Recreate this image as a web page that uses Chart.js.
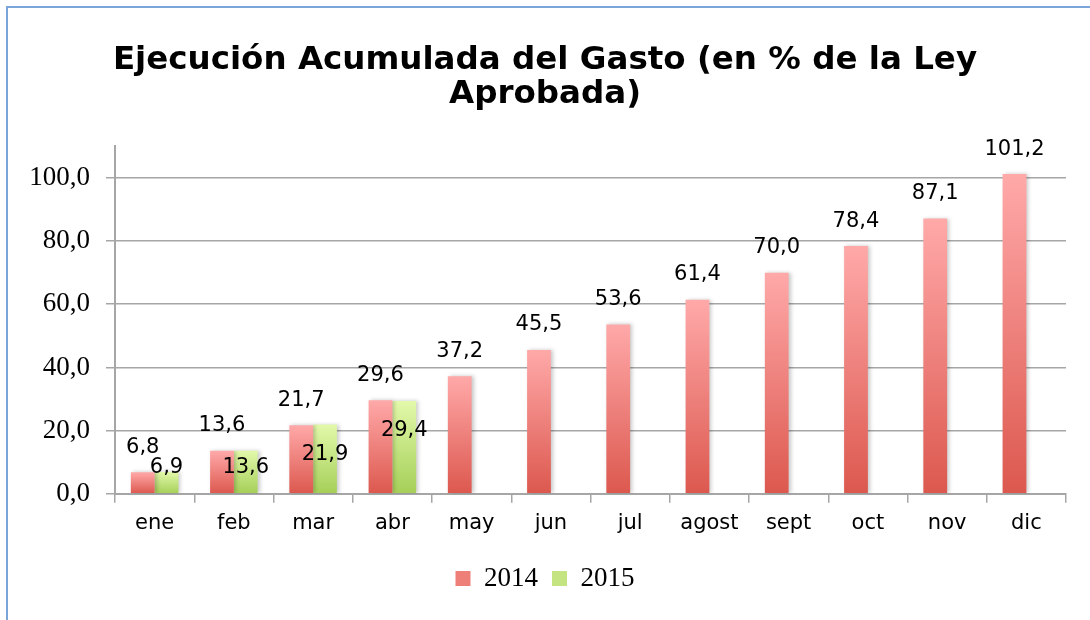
<!DOCTYPE html>
<html lang="es">
<head>
  <meta charset="UTF-8">
  <script src="https://cdn.jsdelivr.net/npm/chart.js"></script>
  <title>Ejecución Acumulada del Gasto</title>
  <style>
    body { margin: 0; background: #fff; }
    .wrap { position: relative; width: 1090px; height: 620px; }
    .marco {
      position: absolute; left: 6px; top: 6px; right: 0; bottom: 0;
      border-left: 2px solid #7ba4d8; border-top: 2px solid #7ba4d8;
      pointer-events: none;
    }
  </style>
</head>
<body>
  <div class="wrap">
    <canvas id="myChart" width="1090" height="620"></canvas>
    <div class="marco"></div>
  </div>

<script>
  // datos
  const meses = ['ene', 'feb', 'mar', 'abr', 'may', 'jun', 'jul', 'agost', 'sept', 'oct', 'nov', 'dic'];
  const gasto2014 = [6.8, 13.6, 21.7, 29.6, 37.2, 45.5, 53.6, 61.4, 70.0, 78.4, 87.1, 101.2];
  const gasto2015 = [6.9, 13.6, 21.9, 29.4, null, null, null, null, null, null, null, null];
  const ticksY = [0, 20, 40, 60, 80, 100];

  const fmt = v => v.toFixed(1).replace('.', ',');

  // degradado por barra (claro arriba, oscuro abajo)
  function degradado(arriba, abajo) {
    return function (context) {
      const chart = context.chart;
      const y = chart.scales.y;
      const v = context.raw;
      if (!y || v == null || context.type !== 'data') return abajo;
      const g = chart.ctx.createLinearGradient(0, y.getPixelForValue(v), 0, y.getPixelForValue(0));
      g.addColorStop(0, arriba);
      g.addColorStop(1, abajo);
      return g;
    };
  }

  const etiquetas = {
    id: 'etiquetas',
    beforeDatasetsDraw(chart) {
      const c = chart.ctx;
      c.save();
      c.shadowColor = 'rgba(0,0,0,0.22)';
      c.shadowBlur = 4;
      c.shadowOffsetX = 2;
    },
    afterDatasetsDraw(chart) {
      const c = chart.ctx;
      c.restore();
      const base = chart.scales.y.getPixelForValue(0);
      c.save();
      c.font = '21px "DejaVu Sans"';
      c.fillStyle = '#000';
      c.textAlign = 'center';
      c.textBaseline = 'middle';
      chart.getDatasetMeta(0).data.forEach((bar, i) => {
        c.fillText(fmt(gasto2014[i]), bar.x, bar.y - 25);
      });
      chart.getDatasetMeta(1).data.forEach((bar, i) => {
        if (gasto2015[i] == null) return;
        c.fillText(fmt(gasto2015[i]), bar.x, Math.min(bar.y + 30, base - 26));
      });
      c.restore();
    }
  };

  const ctx = document.getElementById('myChart').getContext('2d');
  new Chart(ctx, {
    type: 'bar',
    data: {
      labels: meses,
      datasets: [
        {
          label: '2014',
          data: gasto2014,
          backgroundColor: degradado('#ffa9a9', '#dc584e'),
          borderWidth: 0
        },
        {
          label: '2015',
          data: gasto2015,
          backgroundColor: degradado('#e2f9aa', '#a5cf58'),
          borderWidth: 0
        }
      ]
    },
    options: {
      responsive: false,
      animation: false,
      categoryPercentage: 0.6,
      barPercentage: 1.0,
      layout: { padding: { left: 24, right: 24, top: 43, bottom: 18 } },
      plugins: {
        title: {
          display: true,
          text: ['Ejecución Acumulada del Gasto (en % de la Ley', 'Aprobada)'],
          color: '#000',
          font: { family: 'DejaVu Sans', size: 32.5, weight: 'bold', lineHeight: 1.05 },
          padding: { top: 0, bottom: 35 }
        },
        legend: {
          position: 'bottom',
          labels: {
            color: '#000',
            font: { family: 'Liberation Serif', size: 27 },
            boxWidth: 15,
            boxHeight: 15,
            padding: 14,
            generateLabels(chart) {
              return [
                { text: '2014', fillStyle: '#ee7f78', strokeStyle: '#ee7f78', lineWidth: 0, datasetIndex: 0 },
                { text: '2015', fillStyle: '#c4e482', strokeStyle: '#c4e482', lineWidth: 0, datasetIndex: 1 }
              ];
            }
          }
        },
        tooltip: { enabled: false }
      },
      scales: {
        x: {
          afterFit(scale) { scale.height = scale.height + 7; },
          grid: { drawOnChartArea: false, color: '#a6a6a6', lineWidth: 1.5, tickLength: 9, offset: true },
          border: { color: '#a6a6a6', width: 2 },
          ticks: { color: '#000', font: { family: 'DejaVu Sans', size: 21 }, padding: 8 }
        },
        y: {
          min: 0,
          max: 110,
          afterBuildTicks(scale) { scale.ticks = ticksY.map(v => ({ value: v })); },
          afterFit(scale) { scale.width = 91; },
          grid: { color: '#a6a6a6', lineWidth: 1.5, tickLength: 9 },
          border: { color: '#a6a6a6', width: 2 },
          ticks: {
            color: '#000',
            font: { family: 'Liberation Serif', size: 27 },
            padding: 16,
            callback: v => fmt(v)
          }
        }
      }
    },
    plugins: [etiquetas]
  });
</script>
</body>
</html>
